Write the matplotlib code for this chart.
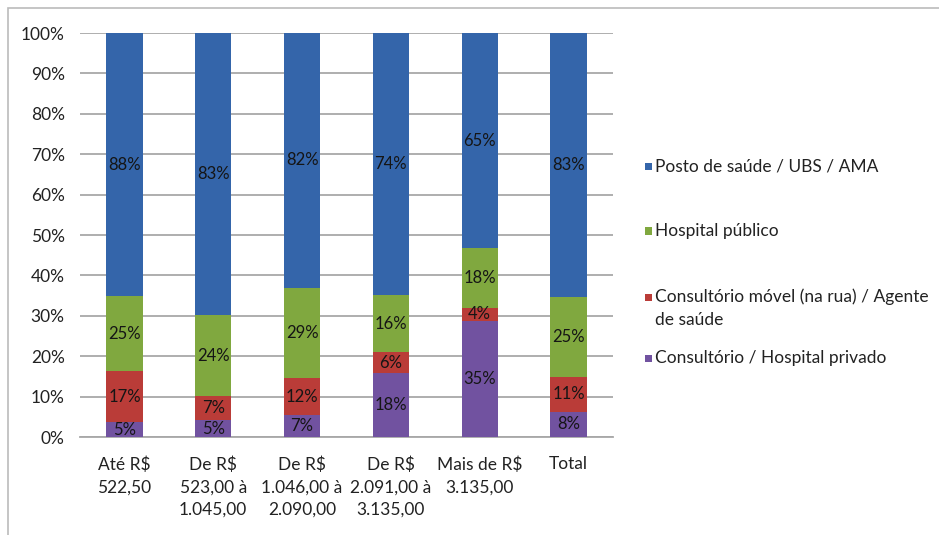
import matplotlib
matplotlib.use("Agg")
import matplotlib.pyplot as plt
from matplotlib.patches import Rectangle
import numpy as np

plt.rcParams['font.family'] = ['Lato', 'DejaVu Sans']

categories = ["Até R$\n522,50", "De R$\n523,00 à\n1.045,00", "De R$\n1.046,00 à\n2.090,00",
              "De R$\n2.091,00 à\n3.135,00", "Mais de R$\n3.135,00", "Total"]
series_names = ["Consultório / Hospital privado", "Consultório móvel (na rua) / Agente\nde saúde",
                "Hospital público", "Posto de saúde / UBS / AMA"]
privado = [5, 5, 7, 18, 35, 8]
movel = [17, 7, 12, 6, 4, 11]
hospital = [25, 24, 29, 16, 18, 25]
posto = [88, 83, 82, 74, 65, 83]
colors = ["#7152A0", "#BA3C38", "#80A83F", "#3465AA"]
yticks = [0, 10, 20, 30, 40, 50, 60, 70, 80, 90, 100]

series = [privado, movel, hospital, posto]
data = np.array(series, dtype=float)
totals = data.sum(axis=0)
norm = data / totals * 100

fig = plt.figure(figsize=(9.39, 5.35), dpi=100)
fig.patches.append(Rectangle((8/939, -0.1), 1.2, 1 - 8/535 + 0.1, transform=fig.transFigure,
                             fill=False, edgecolor="#BBBBBB", linewidth=1.2))
ax = fig.add_axes([80/939, 1 - 437/535, (613 - 80)/939, (437 - 33)/535])

x = np.arange(len(categories))
bottom = np.zeros(len(categories))
for vals, nvals, col in zip(data, norm, colors):
    ax.bar(x, nvals, bottom=bottom, width=0.41, color=col, zorder=3)
    for xi, b, h, v in zip(x, bottom, nvals, vals):
        ax.text(xi, b + h / 2, f"{int(v)}%", ha="center", va="center", fontsize=12,
                color="#151515", zorder=4)
    bottom += nvals

ax.set_xlim(-0.5, len(categories) - 0.5)
ax.set_ylim(0, 100)
ax.set_yticks(yticks)
ax.set_yticklabels([f"{t}%" for t in yticks], fontsize=12.5, color="#222222")
ax.set_xticks(x)
ax.set_xticklabels(categories, fontsize=12.5, color="#222222", linespacing=1.5)
ax.tick_params(axis="x", length=0, pad=14)
ax.tick_params(axis="y", length=0, pad=11)
ax.yaxis.grid(True, color="#A8A8A8", linewidth=1.3, zorder=0)
for s in ["top", "right", "left"]:
    ax.spines[s].set_visible(False)
ax.spines["bottom"].set_color("#A8A8A8")
ax.spines["bottom"].set_linewidth(1.3)

legend_items = [(3, ["Posto de saúde / UBS / AMA"], 167),
                (2, ["Hospital público"], 231),
                (1, ["Consultório móvel (na rua) / Agente", "de saúde"], 297),
                (0, ["Consultório / Hospital privado"], 358)]
for idx, lines, ypix in legend_items:
    yf = 1 - ypix / 535
    fig.patches.append(Rectangle((645/939, yf - 3.5/535), 7/939, 7/535, transform=fig.transFigure,
                                 facecolor=colors[idx], edgecolor="none"))
    for k, line in enumerate(lines):
        fig.text(655/939, 1 - (ypix + 23 * k) / 535, line, fontsize=12.5, color="#222222",
                 va="center")

fig.savefig("out.png", dpi=100)
